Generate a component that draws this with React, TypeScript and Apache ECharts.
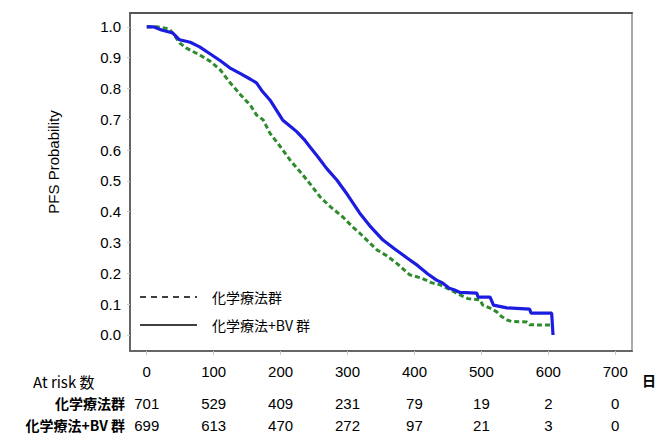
import React, { useEffect, useRef } from "react";
import * as echarts from "echarts";

const xTicks = [0, 100, 200, 300, 400, 500, 600, 700];
const yTicks = [0, 0.1, 0.2, 0.3, 0.4, 0.5, 0.6, 0.7, 0.8, 0.9, 1.0];

const chemoName = "化学療法群";
const bvName = "化学療法+BV 群";

const chemoDays = [0, 16, 34, 42, 49, 60, 79, 95, 110, 124, 140, 155, 164, 174, 184, 200, 214, 233, 246, 259, 275, 293, 308, 318, 335, 344, 358, 375, 393, 410, 425, 438, 455, 468, 480, 498, 502, 515, 523, 530, 538, 545, 568, 572, 605];
const chemoSurv = [1.0, 1.0, 0.993, 0.97, 0.948, 0.93, 0.909, 0.888, 0.86, 0.82, 0.78, 0.745, 0.714, 0.698, 0.655, 0.61, 0.568, 0.52, 0.485, 0.448, 0.415, 0.383, 0.35, 0.331, 0.295, 0.276, 0.258, 0.23, 0.195, 0.185, 0.17, 0.163, 0.145, 0.13, 0.118, 0.114, 0.097, 0.085, 0.075, 0.06, 0.049, 0.044, 0.042, 0.033, 0.032];

const bvDays = [0, 10, 22, 39, 49, 65, 79, 95, 110, 124, 140, 155, 164, 173, 185, 203, 213, 224, 235, 244, 255, 269, 284, 300, 318, 335, 353, 370, 389, 405, 420, 433, 442, 452, 460, 468, 493, 495, 513, 518, 538, 572, 574, 605, 607];
const bvSurv = [1.0, 1.0, 0.99, 0.98, 0.958, 0.95, 0.935, 0.912, 0.89, 0.867, 0.848, 0.83, 0.818, 0.79, 0.76, 0.698, 0.68, 0.66, 0.635, 0.61, 0.58, 0.54, 0.503, 0.455, 0.396, 0.35, 0.308, 0.28, 0.25, 0.225, 0.198, 0.178, 0.169, 0.152, 0.146, 0.138, 0.136, 0.123, 0.123, 0.097, 0.088, 0.084, 0.071, 0.071, 0.0];

const riskChemo = [701, 529, 409, 231, 79, 19, 2, 0];
const riskBv = [699, 613, 470, 272, 97, 21, 3, 0];

const FONT = "'Liberation Sans', Arial, 'Noto Sans CJK JP', sans-serif";
const CJK = "'Noto Sans CJK JP', 'Liberation Sans', sans-serif";

export default function App() {
  const ref = useRef<HTMLDivElement>(null);
  useEffect(() => {
    if (!ref.current) return;
    const chart = echarts.init(ref.current, null, { renderer: "svg" });
    const riskAxis = (vals: number[], offset: number) => ({
      type: "value",
      position: "bottom",
      min: -25,
      max: 725,
      offset,
      axisLine: { show: false, onZero: false },
      axisTick: { show: false },
      splitLine: { show: false },
      axisLabel: {
        customValues: xTicks,
        margin: 14,
        fontSize: 15,
        color: "#000",
        fontFamily: FONT,
        formatter: (v: number) => String(vals[xTicks.indexOf(Math.round(v))] ?? ""),
      },
    });
    chart.setOption({
      animation: false,
      backgroundColor: "#fff",
      grid: { left: 130, top: 13, width: 502, height: 338, show: false },
      xAxis: [
        {
          type: "value",
          position: "bottom",
          min: -25,
          max: 725,
          axisLine: { show: true, onZero: false, lineStyle: { color: "#666", width: 2 } },
          axisTick: { show: true, customValues: xTicks, length: 4, lineStyle: { color: "#c8c8c8" } },
          splitLine: { show: false },
          axisLabel: { customValues: xTicks, margin: 13, fontSize: 15, color: "#000", fontFamily: FONT },
        },
        {
          type: "value",
          position: "top",
          min: -25,
          max: 725,
          axisLine: { show: true, onZero: false, lineStyle: { color: "#555", width: 2 } },
          axisTick: { show: false },
          axisLabel: { show: false },
          splitLine: { show: false },
        },
        riskAxis(riskChemo, 31),
        riskAxis(riskBv, 53),
      ],
      yAxis: [
        {
          type: "value",
          position: "left",
          min: -0.052,
          max: 1.045,
          axisLine: { show: true, onZero: false, lineStyle: { color: "#666", width: 2 } },
          axisTick: { show: true, customValues: yTicks, length: 3, lineStyle: { color: "#c8c8c8" } },
          splitLine: { show: false },
          axisLabel: {
            customValues: yTicks,
            margin: 9,
            fontSize: 15,
            color: "#000",
            fontFamily: FONT,
            formatter: (v: number) => v.toFixed(1),
          },
        },
        {
          type: "value",
          position: "right",
          min: -0.052,
          max: 1.045,
          axisLine: { show: true, onZero: false, lineStyle: { color: "#aaa", width: 2 } },
          axisTick: { show: false },
          axisLabel: { show: false },
          splitLine: { show: false },
        },
      ],
      series: [
        {
          name: chemoName,
          type: "line",
          symbol: "none",
          data: chemoDays.map((d, i) => [d, chemoSurv[i]]),
          lineStyle: { color: "#2e8b2e", width: 3, type: [5, 3] },
          itemStyle: { color: "#2e8b2e" },
          z: 2,
        },
        {
          name: bvName,
          type: "line",
          symbol: "none",
          data: bvDays.map((d, i) => [d, bvSurv[i]]),
          lineStyle: { color: "#1c1ce0", width: 3.2 },
          itemStyle: { color: "#1c1ce0" },
          z: 3,
        },
      ],
      graphic: [
        {
          type: "text",
          x: 53,
          y: 162,
          rotation: Math.PI / 2,
          style: { text: "PFS Probability", fontSize: 15, fontFamily: FONT, fill: "#000", align: "center", verticalAlign: "middle" },
        },
        { type: "line", shape: { x1: 140, y1: 297, x2: 197, y2: 297 }, style: { stroke: "#000", lineWidth: 1.5, lineDash: [6, 5] } },
        { type: "line", shape: { x1: 140, y1: 325, x2: 197, y2: 325 }, style: { stroke: "#000", lineWidth: 1.5 } },
        { type: "text", x: 212, y: 297, style: { text: chemoName, fontSize: 14, fontFamily: CJK, fill: "#000", verticalAlign: "middle" } },
        { type: "text", x: 212, y: 325, style: { text: bvName, fontSize: 14, fontFamily: CJK, fill: "#000", verticalAlign: "middle" } },
        { type: "text", x: 33, y: 381, style: { text: "At risk 数", fontSize: 15, fontFamily: CJK, fill: "#000", verticalAlign: "middle" } },
        { type: "text", x: 125, y: 403, style: { text: chemoName, fontSize: 14, fontWeight: "bold", fontFamily: CJK, fill: "#000", align: "right", verticalAlign: "middle" } },
        { type: "text", x: 125, y: 425, style: { text: bvName, fontSize: 14, fontWeight: "bold", fontFamily: CJK, fill: "#000", align: "right", verticalAlign: "middle" } },
        { type: "text", x: 642, y: 380, style: { text: "日", fontSize: 14, fontWeight: "bold", fontFamily: CJK, fill: "#000", verticalAlign: "middle" } },
      ],
    });
    return () => chart.dispose();
  }, []);
  return <div ref={ref} style={{ width: 655, height: 435, position: "absolute", left: 0, top: 0 }} />;
}
